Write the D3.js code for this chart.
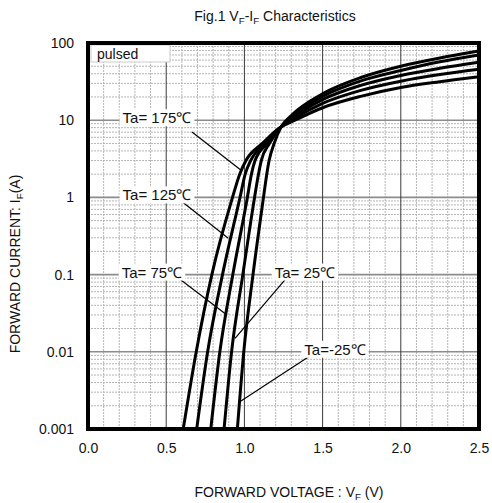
<!DOCTYPE html>
<html>
<head>
<meta charset="utf-8">
<script src="https://cdn.jsdelivr.net/npm/d3@7"></script>
<style>
  html, body { margin: 0; padding: 0; background: #fff; }
  text { font-family: "Liberation Sans", Arial, sans-serif; fill: #111; }
</style>
</head>
<body>
<svg id="chart" width="492" height="503"></svg>
<script>
// ---------- data ----------
const temps = ["175", "125", "75", "25", "-25"];
// lower part: forward voltage at fixed currents
const lowCurrents = [0.001, 0.01, 0.1, 1, 2, 3, 5];
const lowVoltage = {
  "175": [0.609, 0.692, 0.792, 0.924, 0.970, 1.010, 1.115],
  "125": [0.695, 0.765, 0.860, 0.972, 1.005, 1.040, 1.130],
  "75":  [0.785, 0.843, 0.926, 1.019, 1.045, 1.068, 1.145],
  "25":  [0.870, 0.918, 0.990, 1.065, 1.090, 1.108, 1.160],
  "-25": [0.955, 0.996, 1.055, 1.122, 1.143, 1.158, 1.190]
};
// common crossing point
const crossV = 1.235, crossI = 8.2;
// upper part: current at fixed voltages
const highVoltages = [1.3, 1.5, 1.75, 2.0, 2.25, 2.5];
const highCurrent = {
  "175": [9.5, 14.5, 20.5, 26.5, 31.5, 36.6],
  "125": [10.0, 16.5, 24.5, 32, 39, 45.6],
  "75":  [10.5, 18.5, 28.5, 38, 47, 56.2],
  "25":  [11.0, 20.3, 32.5, 44, 57, 70],
  "-25": [11.5, 22, 36, 50, 64, 78.8]
};
const xTicks = [0.0, 0.5, 1.0, 1.5, 2.0, 2.5];
const yTicks = [0.001, 0.01, 0.1, 1, 10, 100];
const yTickLabels = ["0.001", "0.01", "0.1", "1", "10", "100"];
// annotations: label centre (V, I on gridline) and pointer from/to (V, I)
const labelTexts = ["Ta= 175\u2103", "Ta= 125\u2103", "Ta= 75\u2103", "Ta= 25\u2103", "Ta=-25\u2103"];
const labelPos = [[0.441, 10], [0.441, 1], [0.409, 0.1], [1.387, 0.1], [1.579, 0.01]];
const pointerFrom = [[0.665, 7.03], [0.588, 0.925], [0.569, 0.093], [1.281, 0.096], [1.494, 0.0111]];
const pointerTo = [[0.985, 2.2], [0.897, 0.295], [0.882, 0.0306], [0.94, 0.01496], [0.961, 0.00219]];

// ---------- layout ----------
const svg = d3.select("#chart");
const L = 88, R = 479, T = 43, B = 429;
const x = d3.scaleLinear().domain([0, 2.5]).range([L, R]);
const y = d3.scaleLog().domain([0.001, 100]).range([B, T]);

// grid
const g = svg.append("g");
const minorV = d3.range(1, 25).map(i => i / 10).filter(v => Math.abs(v * 2 - Math.round(v * 2)) > 1e-6);
g.selectAll(".mv").data(minorV).enter().append("line")
  .attr("x1", d => x(d)).attr("x2", d => x(d)).attr("y1", T).attr("y2", B)
  .attr("stroke", "#b5b5b5").attr("stroke-width", 1).attr("stroke-dasharray", "2,1");
const minorH = [];
[0.001, 0.01, 0.1, 1, 10].forEach(dec => { for (let k = 2; k <= 9; k++) minorH.push(dec * k); });
g.selectAll(".mh").data(minorH).enter().append("line")
  .attr("x1", L).attr("x2", R).attr("y1", d => y(d)).attr("y2", d => y(d))
  .attr("stroke", "#b5b5b5").attr("stroke-width", 1).attr("stroke-dasharray", "2,1");
g.selectAll(".Mh").data(yTicks.slice(1, -1)).enter().append("line")
  .attr("x1", L).attr("x2", R).attr("y1", d => y(d)).attr("y2", d => y(d))
  .attr("stroke", "#8c8c8c").attr("stroke-width", 1.6);
g.selectAll(".Mv").data(xTicks.slice(1, -1)).enter().append("line")
  .attr("x1", d => x(d)).attr("x2", d => x(d)).attr("y1", T).attr("y2", B)
  .attr("stroke", "#3a3a3a").attr("stroke-width", 1);

// clip
svg.append("clipPath").attr("id", "clip").append("rect")
  .attr("x", L).attr("y", T).attr("width", R - L).attr("height", B - T);

// pulsed box
svg.append("rect").attr("x", L + 3).attr("y", T + 2).attr("width", 79).attr("height", 17)
  .attr("fill", "#fff").attr("stroke", "#cccccc").attr("stroke-width", 1);
svg.append("text").attr("x", L + 9).attr("y", T + 16).attr("font-size", 14).text("pulsed");

// curves
const line = d3.line().x(d => x(d[0])).y(d => y(d[1])).curve(d3.curveMonotoneX);
const curveData = temps.map(t => {
  const pts = lowCurrents.map((c, i) => [lowVoltage[t][i], c]);
  pts.push([crossV, crossI]);
  highVoltages.forEach((v, i) => pts.push([v, highCurrent[t][i]]));
  return pts;
});
svg.append("g").attr("clip-path", "url(#clip)").selectAll("path").data(curveData).enter()
  .append("path").attr("d", line).attr("fill", "none").attr("stroke", "#000")
  .attr("stroke-width", 3).attr("stroke-linejoin", "round");

// annotations
const ann = svg.append("g");
labelTexts.forEach((txt, i) => {
  ann.append("line")
    .attr("x1", x(pointerFrom[i][0])).attr("y1", y(pointerFrom[i][1]))
    .attr("x2", x(pointerTo[i][0])).attr("y2", y(pointerTo[i][1]))
    .attr("stroke", "#000").attr("stroke-width", 1.2);
  const t = ann.append("text").attr("x", x(labelPos[i][0])).attr("y", y(labelPos[i][1]) + 3)
    .attr("text-anchor", "middle").attr("font-size", 15).text(txt);
  const bb = t.node().getBBox();
  ann.insert("rect", () => t.node())
    .attr("x", bb.x - 3).attr("y", bb.y).attr("width", bb.width + 6).attr("height", bb.height)
    .attr("fill", "#fff");
});

// frame
svg.append("rect").attr("x", L).attr("y", T).attr("width", R - L).attr("height", B - T)
  .attr("fill", "none").attr("stroke", "#000").attr("stroke-width", 4);

// axes tick labels
const xAxis = d3.axisBottom(x).tickValues(xTicks).tickFormat(d3.format(".1f")).tickSize(0).tickPadding(14);
svg.append("g").attr("transform", `translate(0,${B})`).call(xAxis)
  .call(s => s.select(".domain").remove())
  .selectAll("text").attr("font-size", 14).attr("fill", "#111")
  .style("font-family", "'Liberation Sans', Arial, sans-serif");
const yAxis = d3.axisLeft(y).tickValues(yTicks).tickFormat((d, i) => yTickLabels[i]).tickSize(0).tickPadding(14);
svg.append("g").attr("transform", `translate(${L},0)`).call(yAxis)
  .call(s => s.select(".domain").remove())
  .selectAll("text").attr("font-size", 14).attr("fill", "#111")
  .style("font-family", "'Liberation Sans', Arial, sans-serif");

// titles with subscripts
function sub(sel, parts, size) {
  let shift = 0;
  parts.forEach(p => {
    const target = p.sub ? 3 : 0;
    const ts = sel.append("tspan").attr("dy", target - shift).text(p.t);
    if (p.sub) ts.attr("font-size", size * 0.7);
    shift = target;
  });
}
const title = svg.append("text").attr("x", 275).attr("y", 21).attr("text-anchor", "middle").attr("font-size", 14);
sub(title, [{t: "Fig.1 V"}, {t: "F", sub: true}, {t: "-I"}, {t: "F", sub: true}, {t: " Characteristics"}], 14);
const xt = svg.append("text").attr("x", 289).attr("y", 497).attr("text-anchor", "middle").attr("font-size", 14);
sub(xt, [{t: "FORWARD VOLTAGE : V"}, {t: "F", sub: true}, {t: " (V)"}], 14);
const yt = svg.append("text").attr("transform", "translate(20,264) rotate(-90)").attr("text-anchor", "middle").attr("font-size", 14);
sub(yt, [{t: "FORWARD CURRENT: I"}, {t: "F", sub: true}, {t: "(A)"}], 14);
</script>
</body>
</html>
